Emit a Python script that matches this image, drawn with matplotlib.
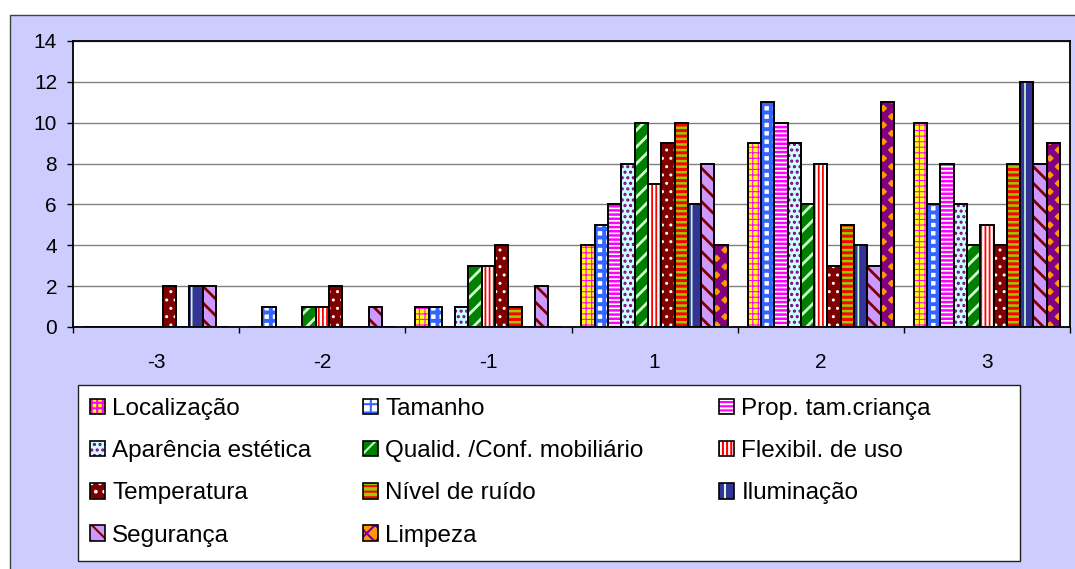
import numpy as np
import matplotlib.pyplot as plt
import matplotlib.patches as mpatches

plt.rcParams['font.family'] = ['Liberation Sans', 'DejaVu Sans']
plt.rcParams['hatch.linewidth'] = 1.5

categories = ['-3', '-2', '-1', '1', '2', '3']
series = ['Localização', 'Tamanho', 'Prop. tam.criança', 'Aparência estética',
          'Qualid. /Conf. mobiliário', 'Flexibil. de uso', 'Temperatura',
          'Nível de ruído', 'Iluminação', 'Segurança', 'Limpeza']

localizacao = [0, 0, 1, 4, 9, 10]
tamanho = [0, 1, 1, 5, 11, 6]
prop_tam = [0, 0, 0, 6, 10, 8]
aparencia = [0, 0, 1, 8, 9, 6]
qualid = [0, 1, 3, 10, 6, 4]
flexibil = [0, 1, 3, 7, 8, 5]
temperatura = [2, 2, 4, 9, 3, 4]
ruido = [0, 0, 1, 10, 5, 8]
iluminacao = [2, 0, 0, 6, 4, 12]
seguranca = [2, 1, 2, 8, 3, 8]
limpeza = [0, 0, 0, 4, 11, 9]

values = [localizacao, tamanho, prop_tam, aparencia, qualid, flexibil,
          temperatura, ruido, iluminacao, seguranca, limpeza]

# face colour, hatch colour, hatch, hatch line width
styles = [
    ('#FFFF00', '#FF00FF', '+++', 0.8),
    ('#FFFFFF', '#3366FF', '++', 2.8),
    ('#FFFFFF', '#FF00FF', '----', 1.8),
    ('#CCFFFF', '#800080', '...', 1.5),
    ('#008000', '#CCFFCC', '//', 2.0),
    ('#FFFFFF', '#FF0000', '||||', 1.3),
    ('#800000', '#FFFFFF', '..', 1.0),
    ('#99CC00', '#FF0000', '---', 2.2),
    ('#333399', '#CCFFCC', '|', 1.2),
    ('#CC99FF', '#800000', '\\\\', 2.0),
    ('#FF9900', '#800080', 'xx', 4.5),
]


def set_hlw(patch, lw):
    if hasattr(patch, 'set_hatch_linewidth'):
        patch.set_hatch_linewidth(lw)


W, H = 1075, 569
fig = plt.figure(figsize=(W / 100, H / 100), dpi=100)
fig.patch.set_facecolor('white')

# lavender chart area
fig.patches.append(mpatches.Rectangle((10 / W, -0.01), 1.0, (569 - 15) / H + 0.01,
                                      transform=fig.transFigure, facecolor='#CCCCFF',
                                      edgecolor='#404040', linewidth=1.0, zorder=-2))
# legend box
fig.patches.append(mpatches.Rectangle((78 / W, 1 - 561 / H), (1020 - 78) / W, (561 - 385) / H,
                                      transform=fig.transFigure, facecolor='white',
                                      edgecolor='#202020', linewidth=1.0, zorder=-1))

ax = fig.add_axes([73 / W, 1 - 327 / H, (1070 - 73) / W, (327 - 41) / H])
ax.set_zorder(2)
ax.set_facecolor('white')

x = np.arange(len(categories))
n = len(series)
bw = 0.08
handles = []
for i, (vals, (face, hc, hatch, hlw)) in enumerate(zip(values, styles)):
    pos = x + (i - (n - 1) / 2) * bw
    bars = ax.bar(pos, vals, bw, color=face, edgecolor=hc, hatch=hatch, linewidth=0, zorder=2)
    for p in bars:
        set_hlw(p, hlw)
    ax.bar(pos, vals, bw, facecolor='none', edgecolor='black', linewidth=1.4, zorder=3)
    hp = mpatches.Patch(facecolor=face, edgecolor=hc, hatch=hatch, linewidth=0)
    set_hlw(hp, hlw)
    op = mpatches.Patch(facecolor='none', edgecolor='black', linewidth=1.2)
    handles.append((hp, op))

ax.set_xlim(-0.5, len(categories) - 0.5)
ax.set_ylim(0, 14)
ax.set_yticks(np.arange(0, 15, 2))
ax.yaxis.grid(True, color='#808080', linewidth=1.0)
ax.set_axisbelow(True)
ax.tick_params(axis='y', direction='out', length=4.3, width=1, pad=7.2, labelsize=15)

ax.set_xticks(np.arange(-0.5, len(categories), 1.0))
ax.set_xticklabels([])
ax.set_xticks(x, minor=True)
ax.set_xticklabels(categories, minor=True)
ax.tick_params(axis='x', which='major', direction='out', length=4.3, width=1)
ax.tick_params(axis='x', which='minor', length=0, pad=19, labelsize=15)
for s in ax.spines.values():
    s.set_color('black')
    s.set_linewidth(1.3)

# legend, three columns, filled row by row
col_x = [90, 363, 719]
for c in range(3):
    idx = list(range(c, n, 3))
    leg = fig.legend([handles[k] for k in idx], [series[k] for k in idx],
                     loc='upper left', bbox_to_anchor=(col_x[c] / W, 1 - 398 / H),
                     frameon=False, fontsize=17.5, borderpad=0, borderaxespad=0,
                     handlelength=0.62, handleheight=0.62, handletextpad=0.3,
                     labelspacing=0.83)
    leg.set_zorder(5)

fig.savefig('out.png', dpi=100)
